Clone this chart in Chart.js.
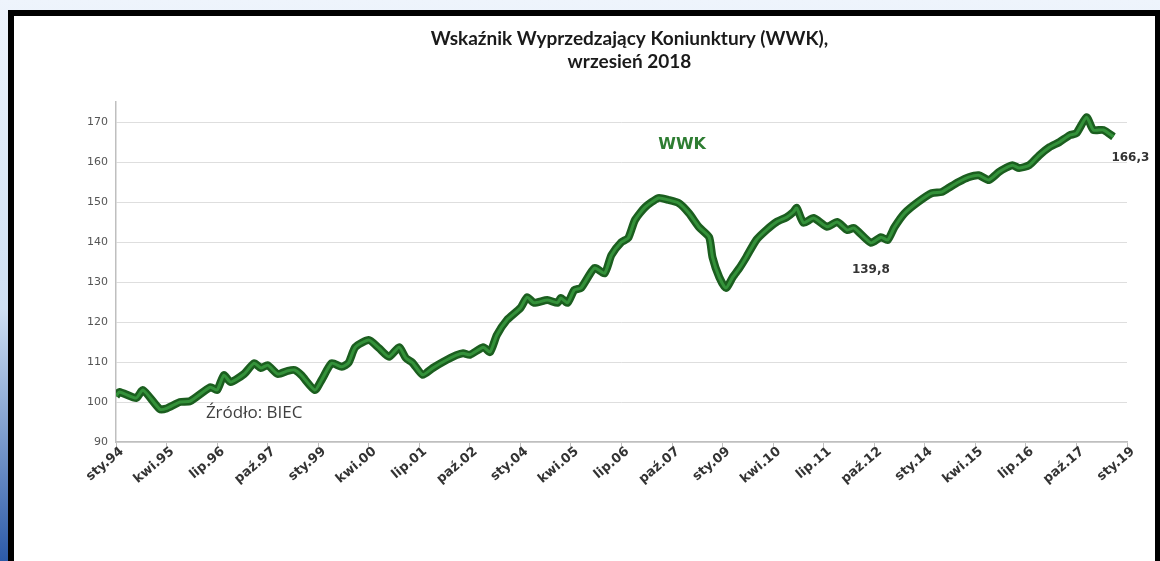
<!DOCTYPE html>
<html>
<head>
<meta charset="utf-8">
<script src="https://cdn.jsdelivr.net/npm/chart.js@4/dist/chart.umd.min.js"></script>
<style>
  body { margin: 0; width: 1160px; height: 561px; overflow: hidden; position: relative;
         background: linear-gradient(to bottom, #eef4fc 0%, #cfe0f3 55%, #2c5aa8 100%); }
  #frame { position: absolute; left: 8px; top: 10px; right: 0; bottom: -20px;
           border: 6px solid #000; border-right-width: 5px; background: #fff; }
  #wrap { position: absolute; left: 0; top: 0; width: 1160px; height: 561px; }
</style>
</head>
<body>
<div id="frame"></div>
<div id="wrap"><canvas id="wwkChart" width="1160" height="561"></canvas></div>
<script>
// WWK index, month offset from sty.94 (January 1994)
const months = [0, 1, 6, 8, 13, 15, 19, 22, 28, 30, 32, 34, 38, 41, 43, 45, 48, 51, 53, 55,
    59, 61, 64, 67, 69, 71, 75, 78, 81, 84, 86, 88, 91, 94, 97, 101, 103, 105, 109, 111,
    113, 116, 120, 122, 124, 128, 131, 132, 134, 136, 138, 142, 145, 147, 150, 152, 154, 157, 161, 164,
    167, 170, 173, 176, 177, 179, 181, 183, 185, 187, 190, 193, 196, 199, 201, 202, 204, 207, 211, 214,
    217, 219, 224, 227, 229, 231, 234, 238, 242, 245, 247, 250, 253, 256, 259, 262, 264, 266, 268, 271,
    274, 277, 280, 283, 285, 288, 290, 293, 296];
const wwk = [101.5, 102.5, 101, 103, 98.2, 98.4, 100, 100.2, 103.7, 103, 106.7, 105, 107, 109.7, 108.5, 109.2, 107, 107.8, 108, 106.7,
    103, 105.5, 109.7, 108.8, 109.8, 113.7, 115.5, 113.5, 111.3, 113.7, 111, 109.8, 106.8, 108.5, 110, 111.7, 112.2, 111.8, 113.7, 112.5,
    116.7, 120.5, 123.5, 126.2, 124.8, 125.5, 124.8, 126, 124.8, 128, 128.5, 133.5, 132.2, 136.7, 140, 141, 145.5, 148.7, 151, 150.5,
    149.7, 147.2, 143.7, 141.2, 136.2, 131.2, 128.5, 131.2, 133.5, 136.2, 140.5, 143, 145, 146.2, 147.5, 148.5, 144.8, 146, 143.8, 145,
    143, 143.5, 139.8, 141.2, 140.5, 143.7, 147.2, 150, 152.2, 152.5, 153.5, 155, 156.2, 156.7, 155.5, 157.5, 158.5, 159.2, 158.5, 159.2,
    161.7, 163.7, 165, 166.7, 167.2, 171.2, 168, 168, 166.3];

// one label every 15 months
const tickLabels = ['sty.94', 'kwi.95', 'lip.96', 'paź.97', 'sty.99', 'kwi.00', 'lip.01', 'paź.02',
    'sty.04', 'kwi.05', 'lip.06', 'paź.07', 'sty.09', 'kwi.10', 'lip.11', 'paź.12',
    'sty.14', 'kwi.15', 'lip.16', 'paź.17', 'sty.19'];

const titleLines = ['Wskaźnik Wyprzedzający Koniunktury (WWK),', 'wrzesień 2018'];

// text notes placed in data coordinates
const notes = [
    { text: 'WWK', x: 168, y: 164.3, color: '#2e7d32', font: 'bold 16px "DejaVu Sans"' },
    { text: '139,8', x: 224, y: 133, color: '#333333', font: 'bold 12px "DejaVu Sans"' },
    { text: '166,3', x: 301, y: 161, color: '#333333', font: 'bold 12px "DejaVu Sans"' },
    { text: 'Źródło: BIEC', x: 41, y: 97.3, color: '#404040', font: '17px "Open Sans"' }
];

const points = months.map((m, i) => ({ x: m, y: wwk[i] }));

// title centred over the plot area, plus the notes
const textPlugin = {
    id: 'texts',
    afterDatasetsDraw(chart) {
        const ctx = chart.ctx;
        const area = chart.chartArea;
        ctx.save();
        ctx.textAlign = 'center';
        ctx.textBaseline = 'middle';
        ctx.font = 'bold 19px Lato';
        ctx.fillStyle = '#1a1a1a';
        const cx = (area.left + area.right) / 2 + 8;
        titleLines.forEach((t, i) => ctx.fillText(t, cx, 39 + i * 23));
        notes.forEach(n => {
            ctx.font = n.font;
            ctx.fillStyle = n.color;
            ctx.fillText(n.text, chart.scales.x.getPixelForValue(n.x), chart.scales.y.getPixelForValue(n.y));
        });
        ctx.restore();
    }
};

new Chart(document.getElementById('wwkChart'), {
    type: 'line',
    data: {
        datasets: [
            {
                label: 'WWK',
                data: points,
                borderColor: '#34923a',
                borderWidth: 3,
                pointRadius: 0,
                tension: 0.2,
                order: 0
            },
            {
                label: 'WWK outline',
                data: points,
                borderColor: '#1b5e1f',
                borderWidth: 8,
                pointRadius: 0,
                tension: 0.2,
                order: 1
            }
        ]
    },
    options: {
        responsive: false,
        animation: false,
        layout: { padding: { left: 76, right: 33, top: 102, bottom: 74 } },
        plugins: {
            legend: { display: false },
            tooltip: { enabled: false },
            title: { display: false }
        },
        scales: {
            x: {
                type: 'linear',
                min: 0,
                max: 300,
                grid: { drawOnChartArea: false, color: '#bfbfbf', tickLength: 5 },
                border: { color: '#bfbfbf', width: 1.5 },
                ticks: {
                    stepSize: 15,
                    autoSkip: false,
                    maxRotation: 40,
                    minRotation: 40,
                    labelOffset: 6,
                    padding: -3,
                    color: '#333333',
                    font: { family: 'DejaVu Sans', size: 13, weight: 'bold' },
                    callback: v => tickLabels[v / 15]
                },
                afterFit: s => { s.height = 45; }
            },
            y: {
                min: 90,
                max: 175,
                afterBuildTicks: s => { s.ticks = s.ticks.filter(t => t.value <= 170); },
                grid: { color: '#dedede', drawTicks: false },
                border: { color: '#bfbfbf', width: 1.5 },
                ticks: {
                    stepSize: 10,
                    padding: 8,
                    color: '#555555',
                    font: { family: 'DejaVu Sans', size: 11 }
                },
                afterFit: s => { s.width = 40; }
            }
        }
    },
    plugins: [textPlugin]
});
</script>
</body>
</html>
